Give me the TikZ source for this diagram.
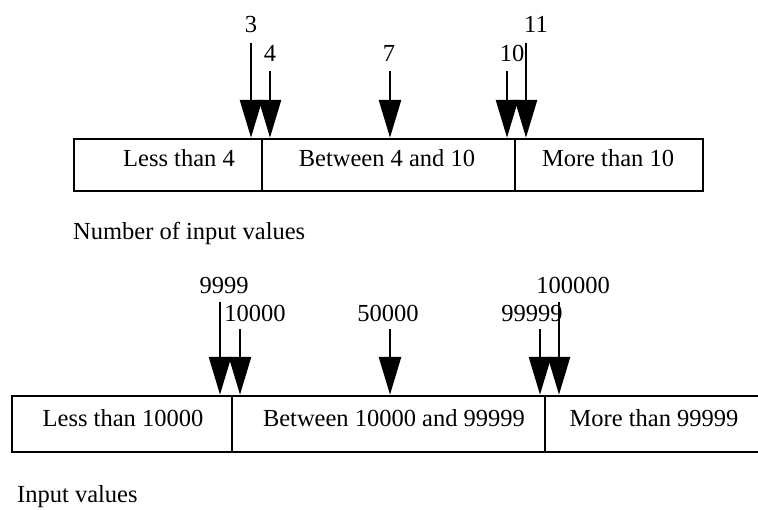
\documentclass[tikz,border=0pt]{standalone}
\usepackage{fontspec}
\setmainfont{Liberation Serif}
\usetikzlibrary{arrows.meta}
\begin{document}
\begin{tikzpicture}[x=1pt,y=-1pt,
  cell/.style={draw, line width=2.5pt, rectangle, inner sep=0pt},
  topcell/.style={cell, minimum height=52pt},
  botcell/.style={cell, minimum height=56pt},
  txt/.style={anchor=base, inner sep=0pt, font=\fontsize{24.5}{29}\selectfont},
  ptr/.style={line width=2.8pt, -{Triangle[length=38pt,width=22pt]}}]
\useasboundingbox (0,0) rectangle (758,509);
\clip (0,0) rectangle (758,509);
% top row of classes
\node[topcell, minimum width=188pt] (a1) at (168,165) {};
\node[topcell, minimum width=253pt] (a2) at (388.5,165) {};
\node[topcell, minimum width=188pt] (a3) at (609,165) {};
\node[txt] (ta1) at (179,166) {Less than 4};
\node[txt] (ta2) at (387,166) {Between 4 and 10};
\node[txt] (ta3) at (608,166) {More than 10};
\node[txt, anchor=base west] (capA) at (73,239) {Number of input values};
% top labels
\node[txt] (l3) at (251,32) {3};
\node[txt] (l4) at (270,61) {4};
\node[txt] (l7) at (389,61) {7};
\node[txt] (l10) at (512,61) {10};
\node[txt] (l11) at (536,32) {11};
\coordinate (s3) at (251,43);
\coordinate (s4) at (270,71);
\coordinate (s7) at (390,71);
\coordinate (s10) at (507,71);
\coordinate (s11) at (526,43);
\draw[ptr] (s3) -- (s3 |- a1.north);
\draw[ptr] (s4) -- (s4 |- a2.north);
\draw[ptr] (s7) -- (s7 |- a2.north);
\draw[ptr] (s10) -- (s10 |- a2.north);
\draw[ptr] (s11) -- (s11 |- a3.north);
% bottom row of classes
\node[botcell, minimum width=220pt] (b1) at (122,424) {};
\node[botcell, minimum width=313pt] (b2) at (388.5,424) {};
\node[botcell, minimum width=230pt] (b3) at (660,424) {};
\node[txt] (tb1) at (123,426) {Less than 10000};
\node[txt] (tb2) at (394,426) {Between 10000 and 99999};
\node[txt] (tb3) at (654,426) {More than 99999};
\node[txt, anchor=base west] (capB) at (17,502) {Input values};
% bottom labels
\node[txt] (m1) at (224,293) {9999};
\node[txt] (m2) at (255,321) {10000};
\node[txt] (m3) at (388,321) {50000};
\node[txt] (m4) at (532,321) {99999};
\node[txt] (m5) at (573,293) {100000};
\coordinate (r1) at (220,302);
\coordinate (r2) at (240,329);
\coordinate (r3) at (390,329);
\coordinate (r4) at (540,329);
\coordinate (r5) at (559,302);
\draw[ptr] (r1) -- (r1 |- b1.north);
\draw[ptr] (r2) -- (r2 |- b2.north);
\draw[ptr] (r3) -- (r3 |- b2.north);
\draw[ptr] (r4) -- (r4 |- b2.north);
\draw[ptr] (r5) -- (r5 |- b3.north);
\end{tikzpicture}
\end{document}
